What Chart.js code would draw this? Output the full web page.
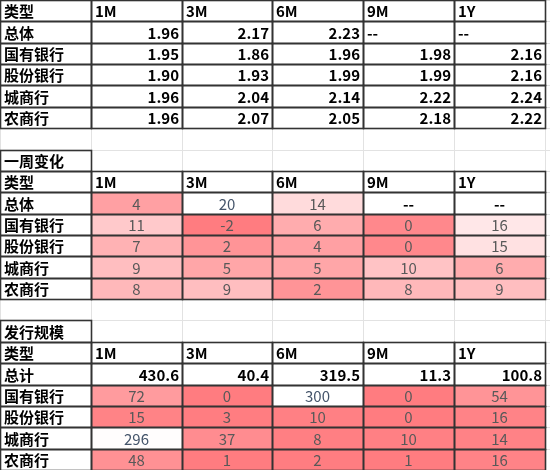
<!DOCTYPE html>
<html>
<head>
<meta charset="utf-8">
<script src="https://cdn.jsdelivr.net/npm/chart.js@4"></script>
<style>
  html, body { margin: 0; padding: 0; background: #fff; }
  #wrap { width: 550px; height: 470px; }
</style>
</head>
<body>
<div id="wrap"><canvas id="tableChart"></canvas></div>
<script>
const tenors = ['1M', '3M', '6M', '9M', '1Y'];
const rateRows = ['总体', '国有银行', '股份银行', '城商行', '农商行'];
const rateValues = [
  ['1.96', '2.17', '2.23', '--', '--'],
  ['1.95', '1.86', '1.96', '1.98', '2.16'],
  ['1.90', '1.93', '1.99', '1.99', '2.16'],
  ['1.96', '2.04', '2.14', '2.22', '2.24'],
  ['1.96', '2.07', '2.05', '2.18', '2.22']
];
const changeRows = ['总体', '国有银行', '股份银行', '城商行', '农商行'];
const changeValues = [
  [4, 20, 14, null, null],
  [11, -2, 6, 0, 16],
  [7, 2, 4, 0, 15],
  [9, 5, 5, 10, 6],
  [8, 9, 2, 8, 9]
];
const sizeTotal = ['430.6', '40.4', '319.5', '11.3', '100.8'];
const sizeRows = ['国有银行', '股份银行', '城商行', '农商行'];
const sizeValues = [
  [72, 0, 300, 0, 54],
  [15, 3, 10, 0, 16],
  [296, 37, 8, 10, 14],
  [48, 1, 2, 1, 16]
];

const COL_W = 90.8;
const ROWS = 22;
const FONT = '"Noto Sans CJK SC", "Liberation Sans", sans-serif';

function heat(v, min, max) {
  const t = (v - min) / (max - min);
  const r = Math.round(255);
  const g = Math.round(124 + (255 - 124) * t);
  const b = Math.round(128 + (255 - 128) * t);
  return `rgb(${r},${g},${b})`;
}

// build cell list: {col,row,text,bold,align,fill,color,boxed}
const cells = [];
function addHeader(row) {
  cells.push({ col: 0, row, text: '类型', bold: true, align: 'left', boxed: true });
  tenors.forEach((t, i) => cells.push({ col: i + 1, row, text: t, bold: true, align: 'left', boxed: true }));
}
addHeader(0);
rateRows.forEach((name, r) => {
  cells.push({ col: 0, row: r + 1, text: name, bold: true, align: 'left', boxed: true });
  rateValues[r].forEach((v, i) => cells.push({ col: i + 1, row: r + 1, text: v, bold: true, align: v === '--' ? 'left' : 'right', boxed: true }));
});
cells.push({ col: 0, row: 7, text: '一周变化', bold: true, align: 'left', boxed: true });
addHeader(8);
changeRows.forEach((name, r) => {
  cells.push({ col: 0, row: r + 9, text: name, bold: true, align: 'left', boxed: true });
  changeValues[r].forEach((v, i) => {
    if (v === null) cells.push({ col: i + 1, row: r + 9, text: '--', bold: true, align: 'center', boxed: true });
    else cells.push({ col: i + 1, row: r + 9, text: String(v), align: 'center', fill: heat(v, -2, 20), color: v === 20 ? '#44546A' : '#595959', boxed: true });
  });
});
cells.push({ col: 0, row: 15, text: '发行规模', bold: true, align: 'left', boxed: true });
addHeader(16);
cells.push({ col: 0, row: 17, text: '总计', bold: true, align: 'left', boxed: true });
sizeTotal.forEach((v, i) => cells.push({ col: i + 1, row: 17, text: v, bold: true, align: 'right', boxed: true }));
sizeRows.forEach((name, r) => {
  cells.push({ col: 0, row: r + 18, text: name, bold: true, align: 'left', boxed: true });
  sizeValues[r].forEach((v, i) => cells.push({ col: i + 1, row: r + 18, text: String(v), align: 'center', fill: heat(v, 0, 300), color: v > 250 ? '#44546A' : '#595959', boxed: true }));
});

const tablePlugin = {
  id: 'tablePlugin',
  afterDraw(chart) {
    const { ctx, scales: { x, y } } = chart;
    ctx.save();
    // sheet gridlines
    ctx.strokeStyle = '#e2e2e2';
    ctx.lineWidth = 1;
    for (let c = 0; c <= 6; c++) {
      const px = Math.round(x.getPixelForValue(c)) + 0.5;
      ctx.beginPath(); ctx.moveTo(px, 0); ctx.lineTo(px, 470); ctx.stroke();
    }
    for (let r = 0; r <= ROWS; r++) {
      const py = Math.round(y.getPixelForValue(r)) + 0.5;
      ctx.beginPath(); ctx.moveTo(0, py); ctx.lineTo(550, py); ctx.stroke();
    }
    cells.forEach(c => {
      const x0 = Math.round(x.getPixelForValue(c.col));
      const x1 = Math.round(x.getPixelForValue(c.col + 1));
      const y0 = Math.round(y.getPixelForValue(c.row));
      const y1 = Math.round(y.getPixelForValue(c.row + 1));
      ctx.fillStyle = c.fill || '#fff';
      ctx.fillRect(x0, y0, x1 - x0, y1 - y0);
    });
    ctx.strokeStyle = '#333';
    ctx.lineWidth = 1.6;
    cells.forEach(c => {
      const x0 = Math.round(x.getPixelForValue(c.col));
      const x1 = Math.round(x.getPixelForValue(c.col + 1));
      const y0 = Math.round(y.getPixelForValue(c.row));
      const y1 = Math.round(y.getPixelForValue(c.row + 1));
      ctx.strokeRect(x0 + 0.5, y0 + 0.5, x1 - x0, y1 - y0);
      ctx.font = `${c.bold ? 'bold ' : ''}15px ${FONT}`;
      ctx.fillStyle = c.color || '#000';
      ctx.textBaseline = 'middle';
      ctx.textAlign = c.align;
      const tx = c.align === 'left' ? x0 + 4 : c.align === 'right' ? x1 - 3 : (x0 + x1) / 2;
      ctx.fillText(c.text, tx, (y0 + y1) / 2 + 1);
    });
    ctx.restore();
  }
};

new Chart(document.getElementById('tableChart'), {
  type: 'scatter',
  data: { datasets: [{ data: [], pointRadius: 0 }] },
  options: {
    responsive: true,
    maintainAspectRatio: false,
    animation: false,
    layout: { padding: 0 },
    plugins: { legend: { display: false }, tooltip: { enabled: false } },
    scales: {
      x: { type: 'linear', min: 0, max: 550 / COL_W, display: false },
      y: { type: 'linear', min: 0, max: ROWS, reverse: true, display: false }
    }
  },
  plugins: [tablePlugin]
});
</script>
</body>
</html>
